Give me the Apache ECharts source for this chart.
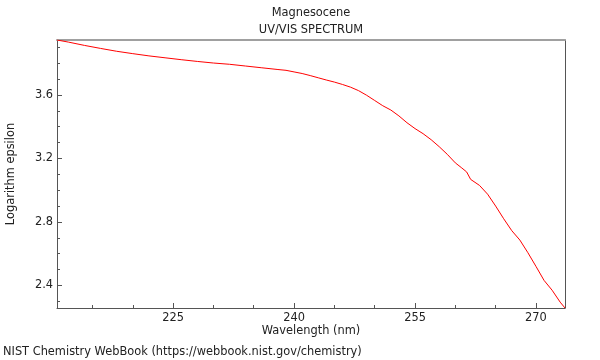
<!DOCTYPE html>
<html>
<head>
<meta charset="utf-8">
<script src="https://cdn.jsdelivr.net/npm/echarts@6/dist/echarts.min.js"></script>
<style>html,body{margin:0;padding:0;background:#fff}#c{width:600px;height:360px}</style>
</head>
<body>
<div id="c"></div>
<script>
const wavelength = [210.6, 212, 214, 216, 218, 220, 222, 224, 226, 228, 230, 232, 234, 236, 238, 239, 240, 241, 242, 243, 244, 245, 246, 247, 248, 249, 250, 251, 252, 253, 254, 255, 256, 257, 258, 259, 260, 260.8, 261.4, 261.9, 263, 264, 265, 266, 267, 268, 269, 270, 271, 272, 273, 273.6];
const logEpsilon = [3.946, 3.933, 3.912, 3.893, 3.875, 3.860, 3.846, 3.834, 3.822, 3.811, 3.801, 3.793, 3.782, 3.771, 3.760, 3.755, 3.745, 3.735, 3.722, 3.708, 3.694, 3.681, 3.666, 3.649, 3.627, 3.598, 3.565, 3.532, 3.505, 3.468, 3.425, 3.388, 3.356, 3.318, 3.274, 3.226, 3.172, 3.140, 3.115, 3.068, 3.030, 2.975, 2.900, 2.820, 2.745, 2.686, 2.606, 2.520, 2.432, 2.370, 2.295, 2.258];
const xMajorTicks = [225, 240, 255, 270];
const xMinorTicks = [215, 220, 225, 230, 235, 240, 245, 250, 255, 260, 265, 270];
const yMajorTicks = [2.4, 2.8, 3.2, 3.6];
const yMinorTicks = [2.3, 2.4, 2.5, 2.6, 2.7, 2.8, 2.9, 3.0, 3.1, 3.2, 3.3, 3.4, 3.5, 3.6, 3.7, 3.8, 3.9];
const titleText = 'Magnesocene';
const subtitleText = 'UV/VIS SPECTRUM';
const xName = 'Wavelength (nm)';
const yName = 'Logarithm epsilon';
const footer = 'NIST Chemistry WebBook (https://webbook.nist.gov/chemistry)';

const xMin = 210.6, xMax = 273.6, yMin = 2.258, yMax = 3.946;
const FONT = 'DejaVu Sans';
const FS = 11.4;
const dark = '#555';
const txt = '#222';
const fontStr = FS + 'px "DejaVu Sans"';

const chart = echarts.init(document.getElementById('c'), null, {renderer: 'canvas'});
const baseX = {type: 'value', min: xMin, max: xMax, splitLine: {show: false}};
const baseY = {type: 'value', min: yMin, max: yMax, splitLine: {show: false}};
chart.setOption({
  animation: false,
  backgroundColor: '#fff',
  grid: {left: 57, right: 35, top: 40, bottom: 52, containLabel: false},
  xAxis: [
    Object.assign({}, baseX, {position: 'bottom',
      axisLine: {show: true, lineStyle: {color: dark, width: 1}},
      axisTick: {show: true, inside: true, length: 5, customValues: xMajorTicks, lineStyle: {color: dark}},
      axisLabel: {show: true, customValues: xMajorTicks, color: txt, fontFamily: FONT, fontSize: FS, margin: 5}}),
    Object.assign({}, baseX, {position: 'bottom', offset: 0,
      axisLine: {show: false},
      axisTick: {show: true, inside: true, length: 3, customValues: xMinorTicks, lineStyle: {color: dark}},
      axisLabel: {show: false}}),
    Object.assign({}, baseX, {position: 'top',
      axisLine: {show: true, lineStyle: {color: '#a0a0a0', width: 2}},
      axisTick: {show: false}, axisLabel: {show: false}})
  ],
  yAxis: [
    Object.assign({}, baseY, {position: 'left',
      axisLine: {show: true, lineStyle: {color: dark, width: 1}},
      axisTick: {show: true, inside: true, length: 5, customValues: yMajorTicks, lineStyle: {color: dark}},
      axisLabel: {show: true, customValues: yMajorTicks, color: txt, fontFamily: FONT, fontSize: FS, margin: 4,
        formatter: v => v.toFixed(1)}}),
    Object.assign({}, baseY, {position: 'left', offset: 0,
      axisLine: {show: false},
      axisTick: {show: true, inside: true, length: 3, customValues: yMinorTicks, lineStyle: {color: dark}},
      axisLabel: {show: false}}),
    Object.assign({}, baseY, {position: 'right',
      axisLine: {show: true, lineStyle: {color: dark, width: 1}},
      axisTick: {show: false}, axisLabel: {show: false}})
  ],
  series: [{
    type: 'line',
    xAxisIndex: 0, yAxisIndex: 0,
    data: wavelength.map((w, i) => [w, logEpsilon[i]]),
    showSymbol: false, symbol: 'none',
    lineStyle: {color: '#ff0000', width: 1},
    itemStyle: {color: '#ff0000'},
    clip: true
  }],
  graphic: [
    {type: 'text', x: 311, y: 13, style: {text: titleText, font: fontStr, fill: txt, textAlign: 'center', textVerticalAlign: 'middle'}},
    {type: 'text', x: 311, y: 30, style: {text: subtitleText, font: fontStr, fill: txt, textAlign: 'center', textVerticalAlign: 'middle'}},
    {type: 'text', x: 311, y: 331, style: {text: xName, font: fontStr, fill: txt, textAlign: 'center', textVerticalAlign: 'middle'}},
    {type: 'text', x: 11, y: 174, rotation: Math.PI / 2, style: {text: yName, font: fontStr, fill: txt, textAlign: 'center', textVerticalAlign: 'middle'}},
    {type: 'text', x: 3, y: 352, style: {text: footer, font: fontStr, fill: txt, textAlign: 'left', textVerticalAlign: 'middle'}}
  ]
});
</script>
</body>
</html>
